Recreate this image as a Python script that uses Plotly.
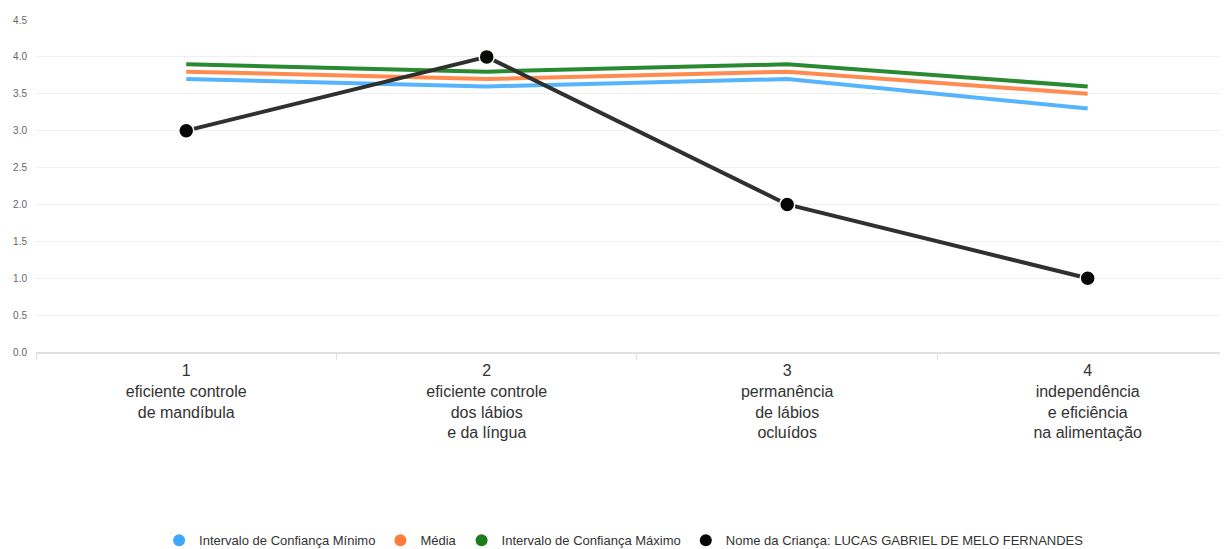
import plotly.graph_objects as go

categories = [
    "1<br>eficiente controle<br>de mandíbula",
    "2<br>eficiente controle<br>dos lábios<br>e da língua",
    "3<br>permanência<br>de lábios<br>ocluídos",
    "4<br>independência<br>e eficiência<br>na alimentação",
]
ic_min = [3.7, 3.6, 3.7, 3.3]
media = [3.8, 3.7, 3.8, 3.5]
ic_max = [3.9, 3.8, 3.9, 3.6]
crianca = [3, 4, 2, 1]

series_names = [
    "Intervalo de Confiança Mínimo",
    "Média",
    "Intervalo de Confiança Máximo",
    "Nome da Criança: LUCAS GABRIEL DE MELO FERNANDES",
]
line_colors = ["#55b4fb", "#ff8b50", "#2a8a32", "#2e312e"]
legend_colors = ["#3ea8ff", "#ff7c3c", "#1d7d1d", "#050805"]

FONT = "Liberation Sans, Arial, sans-serif"

fig = go.Figure()
for vals, name, col in zip([ic_min, media, ic_max], series_names[:3], line_colors[:3]):
    fig.add_trace(go.Scatter(x=categories, y=vals, mode="lines", name=name,
                             line=dict(color=col, width=4), showlegend=False,
                             hoverinfo="skip"))
fig.add_trace(go.Scatter(x=categories, y=crianca, mode="lines+markers", name=series_names[3],
                         line=dict(color=line_colors[3], width=4),
                         marker=dict(color="#050805", size=15, line=dict(color="white", width=1.5)),
                         showlegend=False))
# legend entries (circle only)
for name, col in zip(series_names, legend_colors):
    fig.add_trace(go.Scatter(x=[None], y=[None], mode="markers", name=name,
                             marker=dict(color=col, size=12, symbol="circle")))

fig.update_layout(
    width=1220, height=541,
    margin=dict(l=28, r=0, t=12, b=197),
    paper_bgcolor="white", plot_bgcolor="white",
    font=dict(family=FONT, color="#333333"),
    showlegend=True,
    legend=dict(orientation="h", xref="container", x=0.505, xanchor="center",
                yref="container", y=0.016, yanchor="middle",
                font=dict(size=13, color="#333333", family=FONT),
                itemwidth=30, bgcolor="rgba(0,0,0,0)"),
)
fig.update_xaxes(
    type="category", range=[-0.5, 3.467], showgrid=False,
    showline=True, linecolor="#e0e0e0", linewidth=1.5,
    ticks="outside", tickson="boundaries", ticklen=6, tickcolor="#e0e0e0",
    tickfont=dict(size=16, color="#333333", family=FONT),
    ticklabelstandoff=3,
    fixedrange=True,
)
fig.update_yaxes(
    range=[0, 4.5], tickvals=[0, 0.5, 1, 1.5, 2, 2.5, 3, 3.5, 4, 4.5],
    ticktext=["0.0", "0.5", "1.0", "1.5", "2.0", "2.5", "3.0", "3.5", "4.0", "4.5"],
    showgrid=True, gridcolor="#efefef", gridwidth=1, zeroline=False,
    tickfont=dict(size=10, color="#666666", family=FONT),
    ticklabelstandoff=8, fixedrange=True,
)

fig.write_html("out.html")
